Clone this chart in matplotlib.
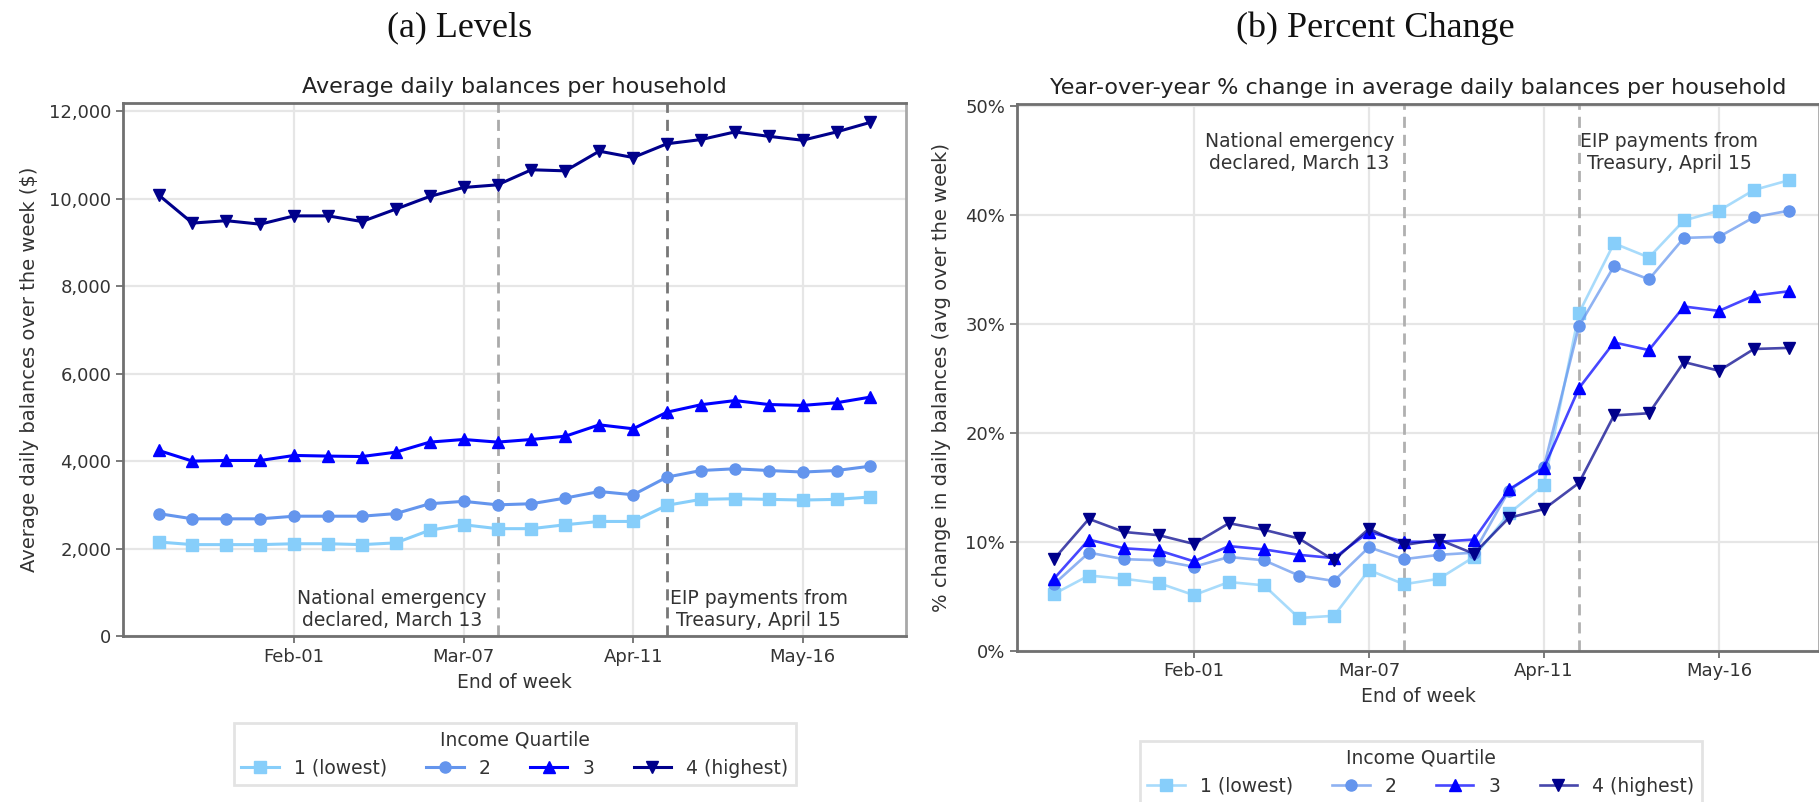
import matplotlib
matplotlib.use("Agg")
import matplotlib.pyplot as plt
import matplotlib.dates as mdates
import matplotlib.ticker as mticker
from matplotlib.colors import to_rgb
import pandas as pd

# week-ending dates (Saturdays, 2020)
week_end = pd.to_datetime([
    "2020-01-04", "2020-01-11", "2020-01-18", "2020-01-25", "2020-02-01",
    "2020-02-08", "2020-02-15", "2020-02-22", "2020-02-29", "2020-03-07",
    "2020-03-14", "2020-03-21", "2020-03-28", "2020-04-04", "2020-04-11",
    "2020-04-18", "2020-04-25", "2020-05-02", "2020-05-09", "2020-05-16",
    "2020-05-23", "2020-05-30",
])
tick_dates = pd.to_datetime(["2020-02-01", "2020-03-07", "2020-04-11", "2020-05-16"])
event_dates = pd.to_datetime(["2020-03-14", "2020-04-18"])
event_labels = ["National emergency\ndeclared, March 13", "EIP payments from\nTreasury, April 15"]

quartiles = ["1 (lowest)", "2", "3", "4 (highest)"]

# (a) levels, $
q1_lvl = [2150, 2090, 2090, 2090, 2110, 2110, 2090, 2130, 2420, 2545, 2455,
          2455, 2545, 2620, 2620, 2990, 3125, 3140, 3125, 3110, 3125, 3180]
q2_lvl = [2800, 2680, 2680, 2680, 2740, 2740, 2740, 2800, 3025, 3080, 3000,
          3025, 3155, 3305, 3230, 3635, 3785, 3825, 3785, 3750, 3785, 3885]
q3_lvl = [4245, 4000, 4015, 4015, 4130, 4115, 4105, 4205, 4435, 4495, 4435,
          4495, 4570, 4830, 4740, 5120, 5290, 5385, 5295, 5275, 5335, 5465]
q4_lvl = [10090, 9445, 9500, 9420, 9610, 9610, 9480, 9765, 10055, 10260, 10320,
          10665, 10640, 11090, 10945, 11260, 11355, 11530, 11430, 11340, 11530, 11750]

# (b) year-over-year % change
q1_pct = [5.2, 6.9, 6.6, 6.2, 5.1, 6.3, 6.0, 3.0, 3.2, 7.4, 6.1,
          6.6, 8.6, 12.6, 15.2, 31.0, 37.4, 36.1, 39.5, 40.4, 42.3, 43.2]
q2_pct = [6.1, 9.0, 8.4, 8.3, 7.7, 8.6, 8.3, 6.9, 6.4, 9.5, 8.4,
          8.8, 9.0, 14.7, 16.9, 29.8, 35.3, 34.1, 37.9, 38.0, 39.8, 40.4]
q3_pct = [6.6, 10.2, 9.4, 9.2, 8.2, 9.6, 9.3, 8.8, 8.5, 10.9, 10.0,
          10.0, 10.2, 14.8, 16.8, 24.1, 28.3, 27.6, 31.6, 31.2, 32.6, 33.0]
q4_pct = [8.4, 12.1, 10.9, 10.6, 9.8, 11.7, 11.1, 10.3, 8.3, 11.2, 9.7,
          10.2, 8.9, 12.2, 13.0, 15.4, 21.6, 21.8, 26.5, 25.7, 27.7, 27.8]

colors = ["#87cefa", "#6495ed", "#0000ff", "#00008b"]
markers = ["s", "o", "^", "v"]
txt = "#333333"

fig = plt.figure(figsize=(18.19, 8.02), dpi=100)
ax1 = fig.add_axes([0.0676, 0.2070, 0.4305, 0.6650])
ax2 = fig.add_axes([0.5591, 0.1887, 0.4409, 0.6817])


def style(ax):
    ax.grid(True, color="#e6e6e6", lw=1.6)
    ax.set_axisbelow(True)
    for s in ["left", "bottom", "top"]:
        ax.spines[s].set_color("#707070")
        ax.spines[s].set_linewidth(2)
    ax.spines["right"].set_color("#a8a8a8")
    ax.spines["right"].set_linewidth(2)
    ax.tick_params(colors=txt, labelsize=13, length=5, width=1.3, color="#707070")
    ax.xaxis.set_major_locator(mticker.FixedLocator(mdates.date2num(tick_dates)))
    ax.xaxis.set_major_formatter(mdates.DateFormatter("%b-%d"))
    ax.set_xlabel("End of week", fontsize=13.5, color=txt, labelpad=5)


def add_legend(ax, x, y):
    leg = ax.legend(title="Income Quartile", loc="upper center", ncol=4,
                    bbox_to_anchor=(x, y), bbox_transform=fig.transFigure,
                    borderaxespad=0, fontsize=13.5, title_fontsize=13.5,
                    fancybox=False, edgecolor="#dddddd", labelcolor=txt,
                    columnspacing=2.1)
    leg.get_frame().set_linewidth(2)
    leg.get_title().set_color(txt)


# ---- (a) Levels
for vals, c, m, lab in zip([q1_lvl, q2_lvl, q3_lvl, q4_lvl], colors, markers, quartiles):
    ax1.plot(week_end, vals, color=c, marker=m, lw=2.2, ms=8, label=lab, zorder=3)
style(ax1)
ax1.set_ylim(0, 12200)
ax1.yaxis.set_major_locator(mticker.MultipleLocator(2000))
ax1.yaxis.set_major_formatter(mticker.FuncFormatter(lambda v, p: f"{v:,.0f}"))
ax1.set_ylabel("Average daily balances over the week ($)", fontsize=14, color=txt, labelpad=7)
ax1.set_title("Average daily balances per household", fontsize=16, color="#222222", pad=7)
for d, col in zip(event_dates, ["#aaaaaa", "#777777"]):
    ax1.axvline(d, color=col, ls=(0, (4, 2.5)), lw=2, zorder=2)
ax1.annotate(event_labels[0], xy=(event_dates[0], 0), xycoords=("data", "axes fraction"),
             xytext=(-8, 4), textcoords="offset points", ha="right", va="bottom",
             multialignment="center", fontsize=13.5, color=txt)
ax1.annotate(event_labels[1], xy=(event_dates[1], 0), xycoords=("data", "axes fraction"),
             xytext=(2, 4), textcoords="offset points", ha="left", va="bottom",
             multialignment="center", fontsize=13.5, color=txt)
add_legend(ax1, 0.2829, 0.0985)

# ---- (b) Percent change
for vals, c, m, lab in zip([q1_pct, q2_pct, q3_pct, q4_pct], colors, markers, quartiles):
    ax2.plot(week_end, vals, color=(*to_rgb(c), 0.72), marker=m, mfc=c, mec=c,
             lw=1.9, ms=8, label=lab, zorder=3)
style(ax2)
ax2.set_xlim(mdates.date2num(pd.Timestamp("2019-12-27 15:00")),
             mdates.date2num(pd.Timestamp("2020-06-05")))
ax2.set_ylim(0, 50.2)
ax2.yaxis.set_major_locator(mticker.MultipleLocator(10))
ax2.yaxis.set_major_formatter(mticker.PercentFormatter(100, decimals=0))
ax2.set_ylabel("% change in daily balances (avg over the week)", fontsize=14, color=txt, labelpad=10)
ax2.set_title("Year-over-year % change in average daily balances per household",
              fontsize=16, color="#222222", pad=7)
for d in event_dates:
    ax2.axvline(d, color="#b0b0b0", ls=(0, (4, 2.5)), lw=2, zorder=2)
ax2.annotate(event_labels[0], xy=(event_dates[0], 1), xycoords=("data", "axes fraction"),
             xytext=(-7, -20), textcoords="offset points", ha="right", va="top",
             multialignment="center", fontsize=13.5, color=txt)
ax2.annotate(event_labels[1], xy=(event_dates[1], 1), xycoords=("data", "axes fraction"),
             xytext=(1, -20), textcoords="offset points", ha="left", va="top",
             multialignment="center", fontsize=13.5, color=txt)
add_legend(ax2, 0.781, 0.0760)

# panel headings
fig.text(0.2529, 0.965, "(a) Levels", fontsize=26, family="Liberation Serif",
         ha="center", va="center", color="#111111")
fig.text(0.7559, 0.965, "(b) Percent Change", fontsize=26, family="Liberation Serif",
         ha="center", va="center", color="#111111")

fig.savefig("out.png", dpi=100)
